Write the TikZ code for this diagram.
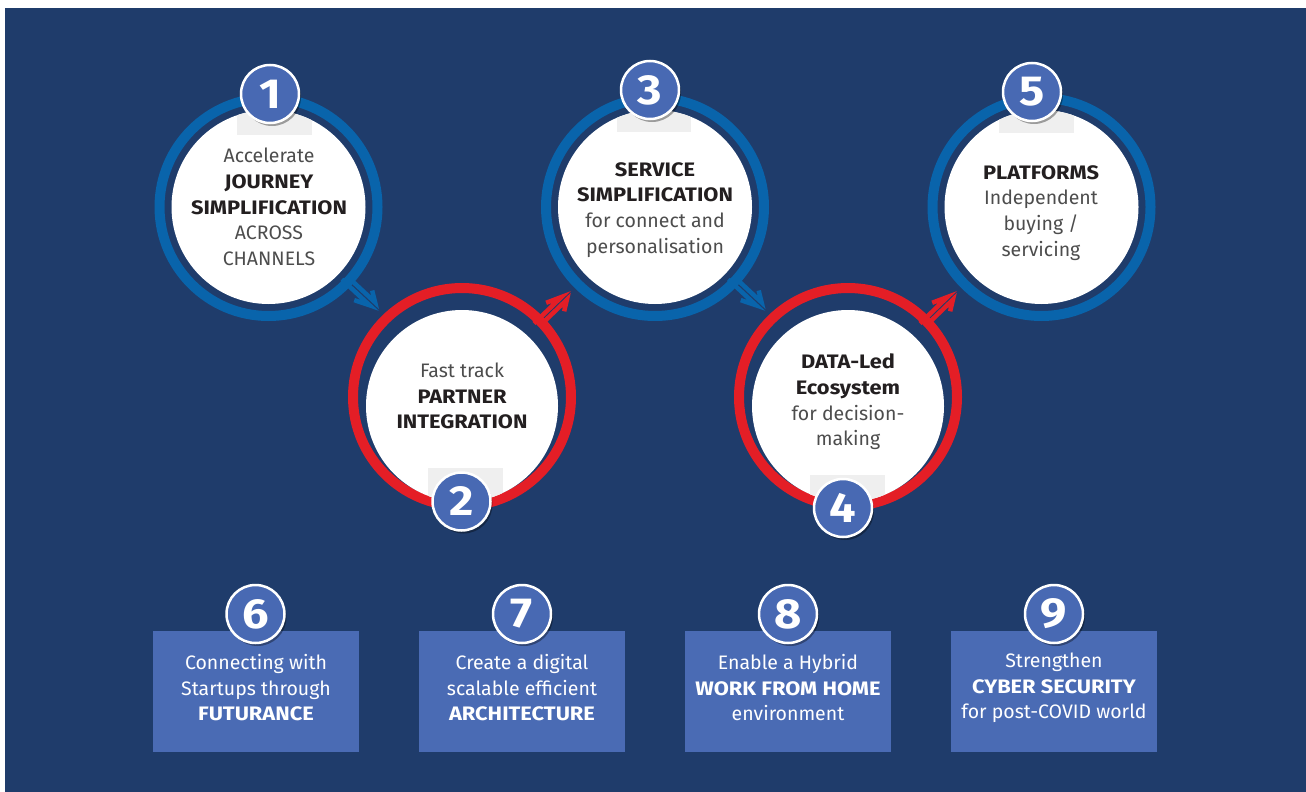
\documentclass[tikz,border=0pt]{standalone}
\usepackage{fontspec}
\setmainfont{Fira Sans}[BoldFeatures={FakeStretch=1.12}]
\usetikzlibrary{shadows,calc}
\definecolor{bg}{HTML}{1F3C6B}
\definecolor{ringblue}{HTML}{0964AB}
\definecolor{ringred}{HTML}{E41E26}
\definecolor{badge}{HTML}{4869B3}
\definecolor{boxblue}{HTML}{4A6BB4}
\definecolor{txtgray}{HTML}{4D4D4D}
\definecolor{txtdark}{HTML}{231F20}
\definecolor{shadegrey}{HTML}{EFEFEF}
\newcommand{\harpoons}[3]{%
  \begin{scope}[shift={(#1)}, x={(#2:1)}, y={({#2+90}:1)}]
    \draw[#3, line width=4.5pt, line join=miter, line cap=butt] (104,5.5) -- (142,5.5) -- ++(-12.5,12.5);
    \draw[#3, line width=4.5pt, line join=miter, line cap=butt] (104,-5.5) -- (142,-5.5) -- ++(-12.5,-12.5);
  \end{scope}}
\newcommand{\dk}[1]{{\color{txtdark}\bfseries #1}}
\begin{document}
\begin{tikzpicture}[x=1pt,y=-1pt,
  ring/.style={line width=10pt},
  whitedisc/.style={circle, fill=white, minimum size=194pt, inner sep=0pt},
  badgenode/.style={circle, fill=badge, draw=white, line width=2.5pt, minimum size=58pt, inner sep=0pt,
     text=white, font=\fontsize{42}{42}\selectfont\bfseries,
     drop shadow={shadow xshift=2pt, shadow yshift=-3pt, opacity=0.35, fill=black}},
  circtext/.style={align=center, font=\fontsize{19.5}{25.7}\selectfont, text=txtgray, inner sep=0pt},
  boxtext/.style={align=center, font=\fontsize{19.5}{25.5}\selectfont, text=white, inner sep=0pt},
  infobox/.style={fill=boxblue, minimum width=206pt, minimum height=121pt, inner sep=0pt},
]
\useasboundingbox (0,0) rectangle (1306,792);
\fill[white] (0,0) rectangle (1306,792);
\fill[bg] (5,8) rectangle (1306,792);

\coordinate (c1) at (268.5,207);
\coordinate (c2) at (462,397);
\coordinate (c3) at (655,207);
\coordinate (c4) at (848,397);
\coordinate (c5) at (1041.5,207);

% rings
\draw[ring, ringblue] (c1) circle[radius=109];
\draw[ring, ringblue] (c3) circle[radius=109];
\draw[ring, ringblue] (c5) circle[radius=109];
\draw[ring, ringred] (c2) circle[radius=109];
\draw[ring, ringred] (c4) circle[radius=109];

% white discs
\node[whitedisc] (w1) at (c1) {};
\node[whitedisc] (w3) at (c3) {};
\node[whitedisc] (w5) at (c5) {};
\node[whitedisc, minimum size=192pt] (w2) at ($(c2)+(0,9)$) {};
\node[whitedisc, minimum size=192pt] (w4) at ($(c4)+(0,9)$) {};

% grey shade boxes behind badges
\begin{scope}\clip (w1.center) circle[radius=97]; \fill[shadegrey] (237,61) rectangle (312,135);\end{scope}
\begin{scope}\clip (w3.center) circle[radius=97]; \fill[shadegrey] (617,57) rectangle (691,132);\end{scope}
\begin{scope}\clip (w5.center) circle[radius=97]; \fill[shadegrey] (999,60) rectangle (1074,133);\end{scope}
\begin{scope}\clip (w2.center) circle[radius=96]; \fill[shadegrey] (428,468) rectangle (503,545);\end{scope}
\begin{scope}\clip (w4.center) circle[radius=96]; \fill[shadegrey] (810,475) rectangle (885,550);\end{scope}

% arrows
\harpoons{c1}{43}{ringblue}
\harpoons{c3}{43}{ringblue}
\harpoons{c2}{-44}{ringred}
\harpoons{c4}{-44}{ringred}

% circle texts
\node[circtext] (t1) at (269,207) {Accelerate\\\dk{JOURNEY}\\\dk{SIMPLIFICATION}\\ACROSS\\CHANNELS};
\node[circtext] (t2) at (462,396) {Fast track\\\dk{PARTNER}\\\dk{INTEGRATION}};
\node[circtext] (t3) at (655,210) {\dk{SERVICE}\\\dk{SIMPLIFICATION}\\for connect and\\personalisation};
\node[circtext] (t4) at (848,402) {\dk{DATA-Led}\\\dk{Ecosystem}\\for decision-\\making};
\node[circtext] (t5) at (1041,213) {\dk{PLATFORMS}\\Independent\\buying /\\servicing};

% bottom boxes
\node[infobox] (r6) at (256,691.5) {};
\node[infobox] (r7) at (522,691.5) {};
\node[infobox] (r8) at (788,691.5) {};
\node[infobox] (r9) at (1054,691.5) {};
\node[boxtext] (s6) at (256,688) {Connecting with\\Startups through\\\textbf{FUTURANCE}};
\node[boxtext] (s7) at (522,688) {Create a digital\\scalable efficient\\\textbf{ARCHITECTURE}};
\node[boxtext] (s8) at (788,688) {Enable a Hybrid\\\textbf{WORK FROM HOME}\\environment};
\node[boxtext] (s9) at (1054,688) {Strengthen\\\textbf{CYBER SECURITY}\\for post-COVID world};

% badges
\node[badgenode] (b1) at (270,94) {1};
\node[badgenode] (b2) at (461.5,501.5) {2};
\node[badgenode] (b3) at (650,90) {3};
\node[badgenode] (b4) at (843,508) {4};
\node[badgenode] (b5) at (1032,92) {5};
\node[badgenode] (b6) at (255.5,614) {6};
\node[badgenode] (b7) at (522,614) {7};
\node[badgenode] (b8) at (788,614) {8};
\node[badgenode] (b9) at (1054,614) {9};
\end{tikzpicture}
\end{document}
